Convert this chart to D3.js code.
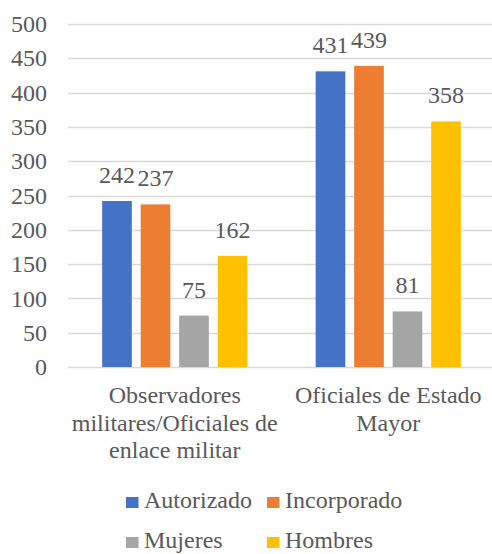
<!DOCTYPE html>
<html>
<head>
<meta charset="utf-8">
<title>Autorizado / Incorporado</title>
<script src="https://d3js.org/d3.v7.min.js"></script>
<style>
    body { margin: 0; background: #fff; }
    svg { display: block; }
</style>
</head>
<body>
<div id="viz"></div>
<script>

    // data
    var categories = ["Observadores militares/Oficiales de enlace militar", "Oficiales de Estado Mayor"];
    var categoryLines = [["Observadores", "militares/Oficiales de", "enlace militar"], ["Oficiales de Estado", "Mayor"]];
    var seriesNames = ["Autorizado", "Incorporado", "Mujeres", "Hombres"];
    var autorizado = [242, 431];
    var incorporado = [237, 439];
    var mujeres = [75, 81];
    var hombres = [162, 358];
    var yTicks = [0, 50, 100, 150, 200, 250, 300, 350, 400, 450, 500];

    var colors = ["#4472C4", "#ED7D31", "#A5A5A5", "#FFC000"];
    var seriesValues = [autorizado, incorporado, mujeres, hombres];

    var width = 492, height = 554;
    var fontSize = "24px";
    var fontFamily = "'Liberation Serif'";

    var svg = d3.select("#viz").append("svg")
        .attr("width", width)
        .attr("height", height);

    function styleText(sel) {
        sel.style("font-family", fontFamily)
            .style("font-size", fontSize)
            .style("fill", "#595959");
    }

    var x0 = d3.scaleBand().domain(categories).range([68, 495])
        .paddingInner(0.32).paddingOuter(0.16);
    var x1 = d3.scaleBand().domain(seriesNames).range([0, x0.bandwidth()])
        .paddingInner(0.23);
    var y = d3.scaleLinear().domain([0, 500]).range([367, 24]);

    // gridlines
    svg.append("g")
        .selectAll("line")
        .data(yTicks)
        .enter()
        .append("line")
        .attr("x1", 68)
        .attr("x2", width)
        .attr("y1", d => Math.round(y(d)) + 0.5)
        .attr("y2", d => Math.round(y(d)) + 0.5)
        .style("stroke", "#d9d9d9")
        .style("stroke-width", 1.3);

    // y tick labels
    svg.append("g")
        .selectAll("text")
        .data(yTicks)
        .enter()
        .append("text")
        .attr("x", 47)
        .attr("y", d => y(d))
        .attr("dy", "0.34em")
        .attr("text-anchor", "end")
        .call(styleText)
        .text(d => d);

    // bars
    var rows = [];
    categories.forEach(function (c, i) {
        seriesNames.forEach(function (s, j) {
            rows.push({ cat: c, series: s, value: seriesValues[j][i], color: colors[j] });
        });
    });

    var bars = svg.append("g");
    bars.selectAll("rect")
        .data(rows)
        .enter()
        .append("rect")
        .attr("x", d => x0(d.cat) + x1(d.series))
        .attr("y", d => y(d.value))
        .attr("width", x1.bandwidth())
        .attr("height", d => y(0) - y(d.value))
        .style("fill", d => d.color);

    // value labels
    bars.selectAll("text")
        .data(rows)
        .enter()
        .append("text")
        .attr("x", d => x0(d.cat) + x1(d.series) + x1.bandwidth() / 2)
        .attr("y", d => y(d.value) - 18)
        .attr("text-anchor", "middle")
        .call(styleText)
        .text(d => d.value);

    // category labels
    var cats = svg.append("g")
        .selectAll("text")
        .data(categories)
        .enter()
        .append("text")
        .attr("text-anchor", "middle")
        .call(styleText);
    cats.each(function (c, i) {
        var t = d3.select(this);
        categoryLines[i].forEach(function (line, k) {
            t.append("tspan")
                .attr("x", x0(c) + x0.bandwidth() / 2)
                .attr("y", 403 + k * 27.5)
                .text(line);
        });
    });

    // legend
    var legendX = [126, 267];
    var legendY = [508, 548];
    var legend = svg.append("g")
        .selectAll("g")
        .data(seriesNames)
        .enter()
        .append("g")
        .attr("transform", (d, i) => "translate(" + legendX[i % 2] + "," + legendY[Math.floor(i / 2)] + ")");
    legend.append("rect")
        .attr("x", 0)
        .attr("y", -11)
        .attr("width", 12.5)
        .attr("height", 11)
        .style("fill", (d, i) => colors[i]);
    legend.append("text")
        .attr("x", 18)
        .attr("y", 0)
        .call(styleText)
        .text(d => d);

</script>
</body>
</html>
